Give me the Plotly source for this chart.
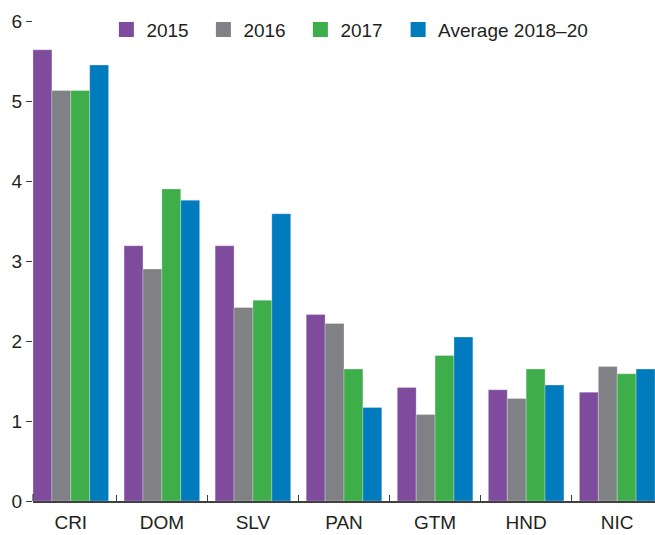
import plotly.graph_objects as go

categories = ["CRI", "DOM", "SLV", "PAN", "GTM", "HND", "NIC"]
series_names = ["2015", "2016", "2017", "Average 2018–20"]
v2015 = [5.64, 3.19, 3.19, 2.33, 1.42, 1.39, 1.36]
v2016 = [5.13, 2.90, 2.42, 2.22, 1.08, 1.28, 1.68]
v2017 = [5.13, 3.90, 2.51, 1.65, 1.82, 1.65, 1.59]
vavg = [5.45, 3.76, 3.59, 1.17, 2.05, 1.45, 1.65]
y_ticks = [0, 1, 2, 3, 4, 5, 6]

colors = ["#7F4B9C", "#808184", "#3DAE4A", "#007BBD"]
series = [v2015, v2016, v2017, vavg]
legend_ids = ["legend", "legend", "legend", "legend2"]

FONT = "Liberation Sans, Arial, sans-serif"
TXT = "#231F20"

fig = go.Figure()
for name, vals, col, lg in zip(series_names, series, colors, legend_ids):
    fig.add_trace(go.Bar(
        x=categories, y=vals, name=name,
        marker=dict(color=col, line=dict(color="rgba(255,255,255,0.35)", width=0.8)),
        showlegend=False,
    ))
    fig.add_trace(go.Scatter(
        x=[None], y=[None], mode="markers", name=name,
        marker=dict(symbol="square", size=15, color=col),
        showlegend=True, legend=lg,
    ))

bargap = 0.17
legend_common = dict(
    orientation="h", xanchor="left", y=0.982, yanchor="middle",
    font=dict(family=FONT, size=19, color=TXT),
    bgcolor="rgba(0,0,0,0)", itemclick=False, itemdoubleclick=False,
)
fig.update_layout(
    width=655, height=535,
    margin=dict(l=33, r=0, t=21, b=34),
    plot_bgcolor="white", paper_bgcolor="white",
    barmode="group", bargap=bargap, bargroupgap=0,
    font=dict(family=FONT, color=TXT, size=19),
    legend=dict(x=0.118, entrywidth=52, entrywidthmode="pixels", **legend_common),
    legend2=dict(x=0.587, **legend_common),
    xaxis=dict(
        type="category",
        range=[-0.5 + bargap / 2, len(categories) - 0.5 - bargap / 2],
        showline=True, linecolor="#404041", linewidth=1.5,
        ticks="inside", tickson="boundaries", ticklen=6, tickcolor="#404041", tickwidth=1.2,
        tickfont=dict(family=FONT, size=19, color=TXT),
        ticklabelstandoff=3,
        showgrid=False, zeroline=False, fixedrange=True,
    ),
    yaxis=dict(
        range=[0, 6], tickvals=y_ticks,
        showline=False, showgrid=False, zeroline=False,
        ticks="outside", ticklen=6, tickcolor="#404041", tickwidth=1,
        tickfont=dict(family=FONT, size=19, color=TXT),
        fixedrange=True,
    ),
    shapes=[dict(
        type="line", xref="paper", x0=0, x1=0, yref="y", ysizemode="pixel",
        yanchor=0, y0=0, y1=7, line=dict(color="#404041", width=1.2),
    )],
)

fig.write_html("out.html", config={"displayModeBar": False},
               post_script="document.body.style.margin='0';")
